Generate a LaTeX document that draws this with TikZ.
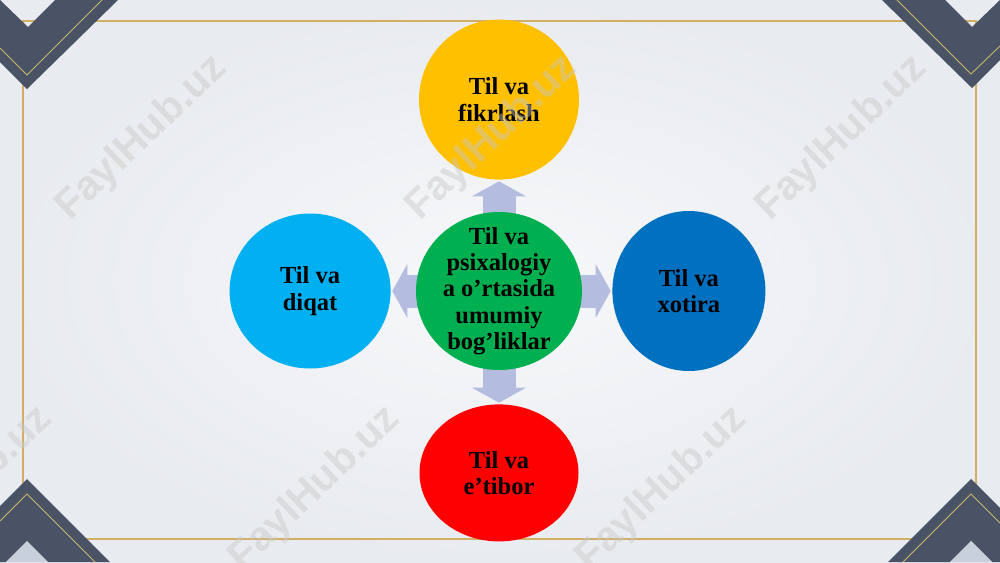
\documentclass[tikz,border=0pt]{standalone}
\usepackage{fontspec}
\setmainfont{Liberation Serif}
\newfontfamily\wmfont{Liberation Sans}
\usetikzlibrary{arrows.meta,shapes.geometric,positioning}
\definecolor{tilyellow}{HTML}{FFC000}
\definecolor{tilcyan}{HTML}{00B0F0}
\definecolor{tilgreen}{HTML}{00B050}
\definecolor{tilblue}{HTML}{0070C0}
\definecolor{tilred}{HTML}{FF0000}
\definecolor{linkblue}{HTML}{B4BDE0}
\definecolor{slate}{HTML}{4A5265}
\definecolor{framegold}{HTML}{D2AE66}
\definecolor{trim}{HTML}{C8B86A}
\definecolor{paperin}{HTML}{F7F8FA}
\definecolor{paperout}{HTML}{E8EBEF}
\definecolor{notch}{HTML}{C8D0DC}
\pgfdeclarelayer{base}
\pgfdeclarelayer{links}
\pgfdeclarelayer{front}
\pgfsetlayers{base,links,main,front}
\tikzset{
	topic/.style 	= {ellipse, inner sep = -15pt, align = center,
		font = \bfseries\fontsize{24.5}{26.3}\selectfont},
	dims/.style 2 args = {minimum width = #1, minimum height = #2},
	link/.style 	= {draw = linkblue, line width = 33pt,
		-{Triangle[width = 54pt, length = 15pt, line width = 0pt]},
		shorten > = 1.5pt},
	corner/.style 	= {fill = slate},
	trimline/.style = {draw = trim, line width = 0.9pt},
	watermark/.style = {font = \wmfont\bfseries\fontsize{41}{41}\selectfont,
		text = {rgb,255:red,200;green,200;blue,200}, opacity = 0.45, rotate = 43.6},
}

\begin{document}
\begin{tikzpicture}[x = 1pt, y = -1pt]
\useasboundingbox (0,0) rectangle (1000,562);
\clip (0,0) rectangle (1000,562);
% centre and the four topics round it
\node[topic, dims = {166pt}{158pt}, fill = tilgreen] (hub) at (499,291)
	{Til va\\psixalogiy\\a o’rtasida\\umumiy\\bog’liklar};
\node[topic, dims = {160pt}{160pt}, fill = tilyellow, above = 32pt of hub] (fikr)
	{Til va\\fikrlash};
\node[topic, dims = {161pt}{155pt}, fill = tilcyan, left = 25pt of hub] (diqat)
	{Til va\\diqat};
\node[topic, dims = {153pt}{160pt}, fill = tilblue, right = 30pt of hub] (xotira)
	{Til va\\xotira};
\node[topic, dims = {159pt}{137pt}, fill = tilred, below = 34pt of hub] (etibor)
	{Til va\\e’tibor};
% block arrows, under the circles
\begin{pgfonlayer}{links}
	\draw[link] (hub.center) -- (fikr);
	\draw[link] (hub.center) -- (diqat);
	\draw[link] (hub.center) -- (xotira);
	\draw[link] (hub.center) -- (etibor);
\end{pgfonlayer}
% slide: paper, frame and corners
\begin{pgfonlayer}{base}
	\shade[inner color = paperin, outer color = paperout] (0,0) rectangle (1000,562);
	\draw[framegold, line width = 1.2pt] (23,21) rectangle (976,539);
	% top left
	\fill[corner] (0,0) -- (28,27) -- (55,0) -- (118,0) -- (27,89) -- (0,62) -- cycle;
	\draw[trimline] (0,48) -- (27,75) -- (102,0);
	% top right
	\fill[corner] (1000,0) -- (972,27) -- (945,0) -- (882,0) -- (972,88) -- (1000,60) -- cycle;
	\draw[trimline] (1000,46) -- (971,74) -- (897,0);
	% bottom left
	\fill[corner] (0,506) -- (27,479) -- (110,562) -- (48,562) -- (27,541) -- (6,562) -- (0,562) -- cycle;
	\fill[notch] (6,562) -- (27,541) -- (48,562) -- cycle;
	\draw[trimline] (0,521) -- (27,494) -- (95,562);
	% bottom right
	\fill[corner] (1000,508) -- (971,479) -- (888,562) -- (950,562) -- (971,541) -- (992,562) -- (1000,562) -- cycle;
	\fill[notch] (950,562) -- (971,541) -- (992,562) -- cycle;
	\draw[trimline] (1000,523) -- (971,494) -- (903,562);
\end{pgfonlayer}
% watermarks
\begin{pgfonlayer}{front}
	\foreach \wx/\wy [count = \i] in {142/138, 492/138, 842/138, -33/489, 315/489, 662/489}
		\node[watermark] (wm\i) at (\wx,\wy) {FaylHub.uz};
\end{pgfonlayer}
\end{tikzpicture}
\end{document}
